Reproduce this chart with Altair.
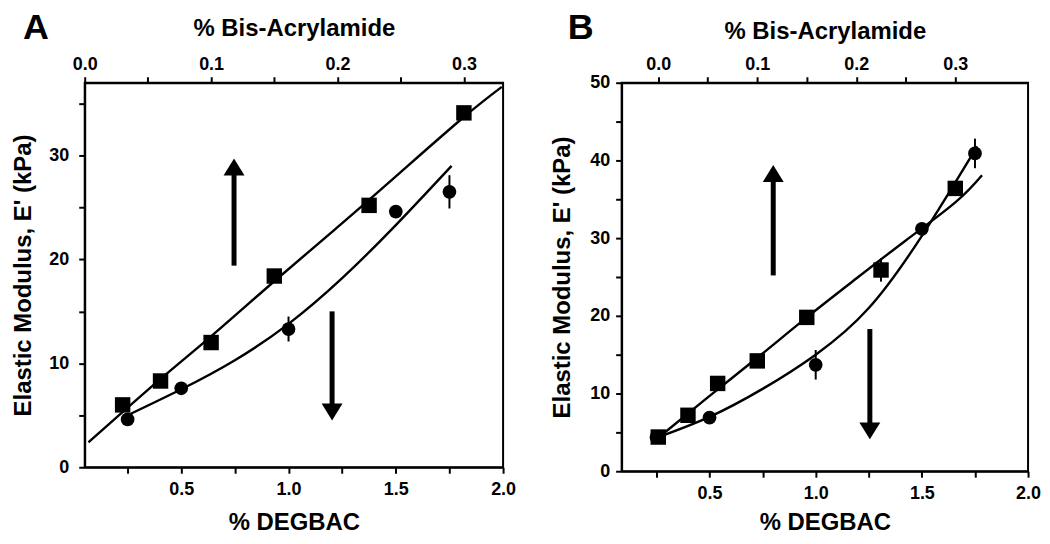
import altair as alt
import pandas as pd

FONT = "Liberation Sans"

# ---------------- Panel A data ----------------
a_bis_x = [0.03, 0.06, 0.10, 0.15, 0.225, 0.30]
a_bis_y = [6.0, 8.3, 12.0, 18.4, 25.2, 34.1]
a_bis_err = [0, 0, 0, 0, 0, 0]
a_deg_x = [0.25, 0.50, 1.00, 1.50, 1.75]
a_deg_y = [4.6, 7.6, 13.3, 24.6, 26.5]
a_deg_err = [0, 0, 1.2, 0, 1.6]
a_bis_fit_x = [0.003, 0.06, 0.10, 0.15, 0.20, 0.25, 0.30, 0.33]
a_bis_fit_y = [2.4, 8.5, 12.6, 17.9, 23.1, 28.4, 33.7, 36.6]
a_deg_fit_x = [0.25, 0.50, 0.75, 1.00, 1.25, 1.50, 1.76]
a_deg_fit_y = [5.0, 7.5, 10.3, 13.8, 18.2, 23.3, 29.0]
a_arrow_x = [0.746, 1.203]
a_arrow_tail = [19.4, 15.0]
a_arrow_shaft_end = [28.5, 5.8]
a_arrow_tip = [29.7, 4.5]
a_arrow_dir = ["up", "down"]

# ---------------- Panel B data ----------------
b_bis_x = [0.0, 0.03, 0.06, 0.10, 0.15, 0.225, 0.30]
b_bis_y = [4.4, 7.2, 11.3, 14.2, 19.8, 25.9, 36.4]
b_bis_err = [0, 0, 0, 0, 0, 1.5, 0]
b_deg_x = [0.25, 0.50, 1.00, 1.50, 1.75]
b_deg_y = [4.4, 6.9, 13.7, 31.2, 40.9]
b_deg_err = [0, 0, 1.9, 0, 1.9]
b_bis_fit_x = [0.0, 0.05, 0.10, 0.15, 0.20, 0.25, 0.30, 0.327]
b_bis_fit_y = [4.3, 9.5, 14.6, 19.8, 24.8, 29.7, 34.6, 38.1]
b_deg_fit_x = [0.25, 0.50, 0.75, 1.00, 1.25, 1.50, 1.76]
b_deg_fit_y = [4.3, 7.0, 10.6, 15.0, 21.0, 30.3, 41.8]
b_arrow_x = [0.80, 1.255]
b_arrow_tail = [25.2, 18.3]
b_arrow_shaft_end = [38.0, 5.6]
b_arrow_tip = [39.4, 4.1]
b_arrow_dir = ["up", "down"]

# tick lists
top_ticks = [0.0, 0.05, 0.10, 0.15, 0.20, 0.25, 0.30]
bottom_ticks = [0.25, 0.5, 0.75, 1.0, 1.25, 1.5, 1.75, 2.0]
a_y_ticks = [0, 5, 10, 15, 20, 25, 30, 35]
b_y_ticks = [0, 5, 10, 15, 20, 25, 30, 35, 40, 45, 50]

UP = "M0,0L-0.62,1L0.62,1Z"
DOWN = "M0,0L-0.62,-1L0.62,-1Z"


def base_axis(**kw):
    d = dict(
        labelFont=FONT, labelFontSize=18, labelFontWeight="bold", labelColor="black",
        titleFont=FONT, titleFontSize=24, titleFontWeight="bold", titleColor="black",
        domainColor="black", domainWidth=2, tickColor="black", tickWidth=2, tickSize=6,
        grid=False, labelOverlap=False, labelFlush=False,
    )
    d.update(kw)
    return alt.Axis(**d)


def make_panel(letter, letter_dx, letter_dy,
               bis_x, bis_y, bis_err, deg_x, deg_y, deg_err,
               bis_fit_x, bis_fit_y, deg_fit_x, deg_fit_y,
               ar_x, ar_tail, ar_end, ar_tip, ar_dir,
               top_domain, bottom_domain, y_domain, y_ticks,
               width, height, y_lpad, y_tpad, b_tpad, t_tpad):
    xt = alt.X("x:Q", scale=alt.Scale(domain=top_domain, nice=False, zero=False),
               axis=base_axis(orient="top", title="% Bis-Acrylamide", values=top_ticks,
                              labelExpr="abs(round(datum.value*100)) % 10 == 0 ? format(datum.value, '.1f') : ''",
                              labelPadding=3, titlePadding=t_tpad))
    xb = alt.X("x:Q", scale=alt.Scale(domain=bottom_domain, nice=False, zero=False),
               axis=base_axis(orient="bottom", title="% DEGBAC", values=bottom_ticks,
                              labelExpr="round(datum.value*100) % 50 == 0 ? format(datum.value, '.1f') : ''",
                              labelPadding=7, titlePadding=b_tpad))
    yaxis = base_axis(title="Elastic Modulus, E' (kPa)", values=y_ticks,
                      labelExpr="datum.value % 10 == 0 ? format(datum.value, 'd') : ''",
                      labelPadding=y_lpad, titlePadding=y_tpad)
    ysc = alt.Scale(domain=y_domain, nice=False, zero=False)

    def Y(f):
        return alt.Y(f, scale=ysc, axis=yaxis)

    bis = pd.DataFrame({"x": bis_x, "y": bis_y, "err": bis_err})
    bis["lo"] = bis["y"] - bis["err"]
    bis["hi"] = bis["y"] + bis["err"]
    bis_e = bis[bis["err"] > 0]
    deg = pd.DataFrame({"x": deg_x, "y": deg_y, "err": deg_err})
    deg["lo"] = deg["y"] - deg["err"]
    deg["hi"] = deg["y"] + deg["err"]
    deg_e = deg[deg["err"] > 0]
    bfit = pd.DataFrame({"x": bis_fit_x, "y": bis_fit_y})
    dfit = pd.DataFrame({"x": deg_fit_x, "y": deg_fit_y})
    arr = pd.DataFrame({"x": ar_x, "tail": ar_tail, "end": ar_end, "tip": ar_tip, "dir": ar_dir})

    top_layers = [
        alt.Chart(bfit).mark_line(color="black", strokeWidth=2.4, interpolate="natural").encode(x=xt, y=Y("y:Q")),
        alt.Chart(bis).mark_point(shape="square", filled=True, size=240, color="black", opacity=1).encode(x=xt, y=Y("y:Q")),
    ]
    if len(bis_e):
        top_layers.append(alt.Chart(bis_e).mark_rule(color="black", strokeWidth=2).encode(x=xt, y=Y("lo:Q"), y2="hi:Q"))
    top = alt.layer(*top_layers)

    bot_layers = [
        alt.Chart(dfit).mark_line(color="black", strokeWidth=2.4, interpolate="natural").encode(x=xb, y=Y("y:Q")),
        alt.Chart(deg).mark_point(shape="circle", filled=True, size=190, color="black", opacity=1).encode(x=xb, y=Y("y:Q")),
        alt.Chart(deg_e).mark_rule(color="black", strokeWidth=2).encode(x=xb, y=Y("lo:Q"), y2="hi:Q"),
        alt.Chart(arr).mark_rule(color="black", strokeWidth=5).encode(x=xb, y=Y("tail:Q"), y2="end:Q"),
        alt.Chart(arr).mark_point(filled=True, size=1150, color="black", opacity=1, strokeWidth=0).encode(
            x=xb, y=Y("tip:Q"),
            shape=alt.Shape("dir:N", scale=alt.Scale(domain=["up", "down"], range=[UP, DOWN]), legend=None)),
    ]
    bot = alt.layer(*bot_layers)

    lab = alt.Chart(pd.DataFrame({"t": [letter]})).mark_text(
        font=FONT, fontSize=36, fontWeight="bold", color="black", align="left", baseline="alphabetic"
    ).encode(x=alt.value(letter_dx), y=alt.value(letter_dy), text="t:N")

    return alt.layer(top, bot, lab).resolve_scale(x="independent").properties(width=width, height=height)


panelA = make_panel("A", -62, -44,
                    a_bis_x, a_bis_y, a_bis_err, a_deg_x, a_deg_y, a_deg_err,
                    a_bis_fit_x, a_bis_fit_y, a_deg_fit_x, a_deg_fit_y,
                    a_arrow_x, a_arrow_tail, a_arrow_shaft_end, a_arrow_tip, a_arrow_dir,
                    [0.0, 0.331], [0.05, 2.0], [0, 37], a_y_ticks,
                    420, 386, 10, 13, 12, 15)
panelB = make_panel("B", -54, -44,
                    b_bis_x, b_bis_y, b_bis_err, b_deg_x, b_deg_y, b_deg_err,
                    b_bis_fit_x, b_bis_fit_y, b_deg_fit_x, b_deg_fit_y,
                    b_arrow_x, b_arrow_tail, b_arrow_shaft_end, b_arrow_tip, b_arrow_dir,
                    [-0.037, 0.3735], [0.086, 2.0], [0, 50], b_y_ticks,
                    408, 390, 6, 15, 8, 12)

chart = alt.hconcat(panelA, panelB, spacing=32).properties(
    padding={"left": 2, "top": 0, "right": 0, "bottom": 0}
).configure_view(stroke="black", strokeWidth=2)

chart.save("out.html", embed_options={"renderer": "svg", "actions": False})
